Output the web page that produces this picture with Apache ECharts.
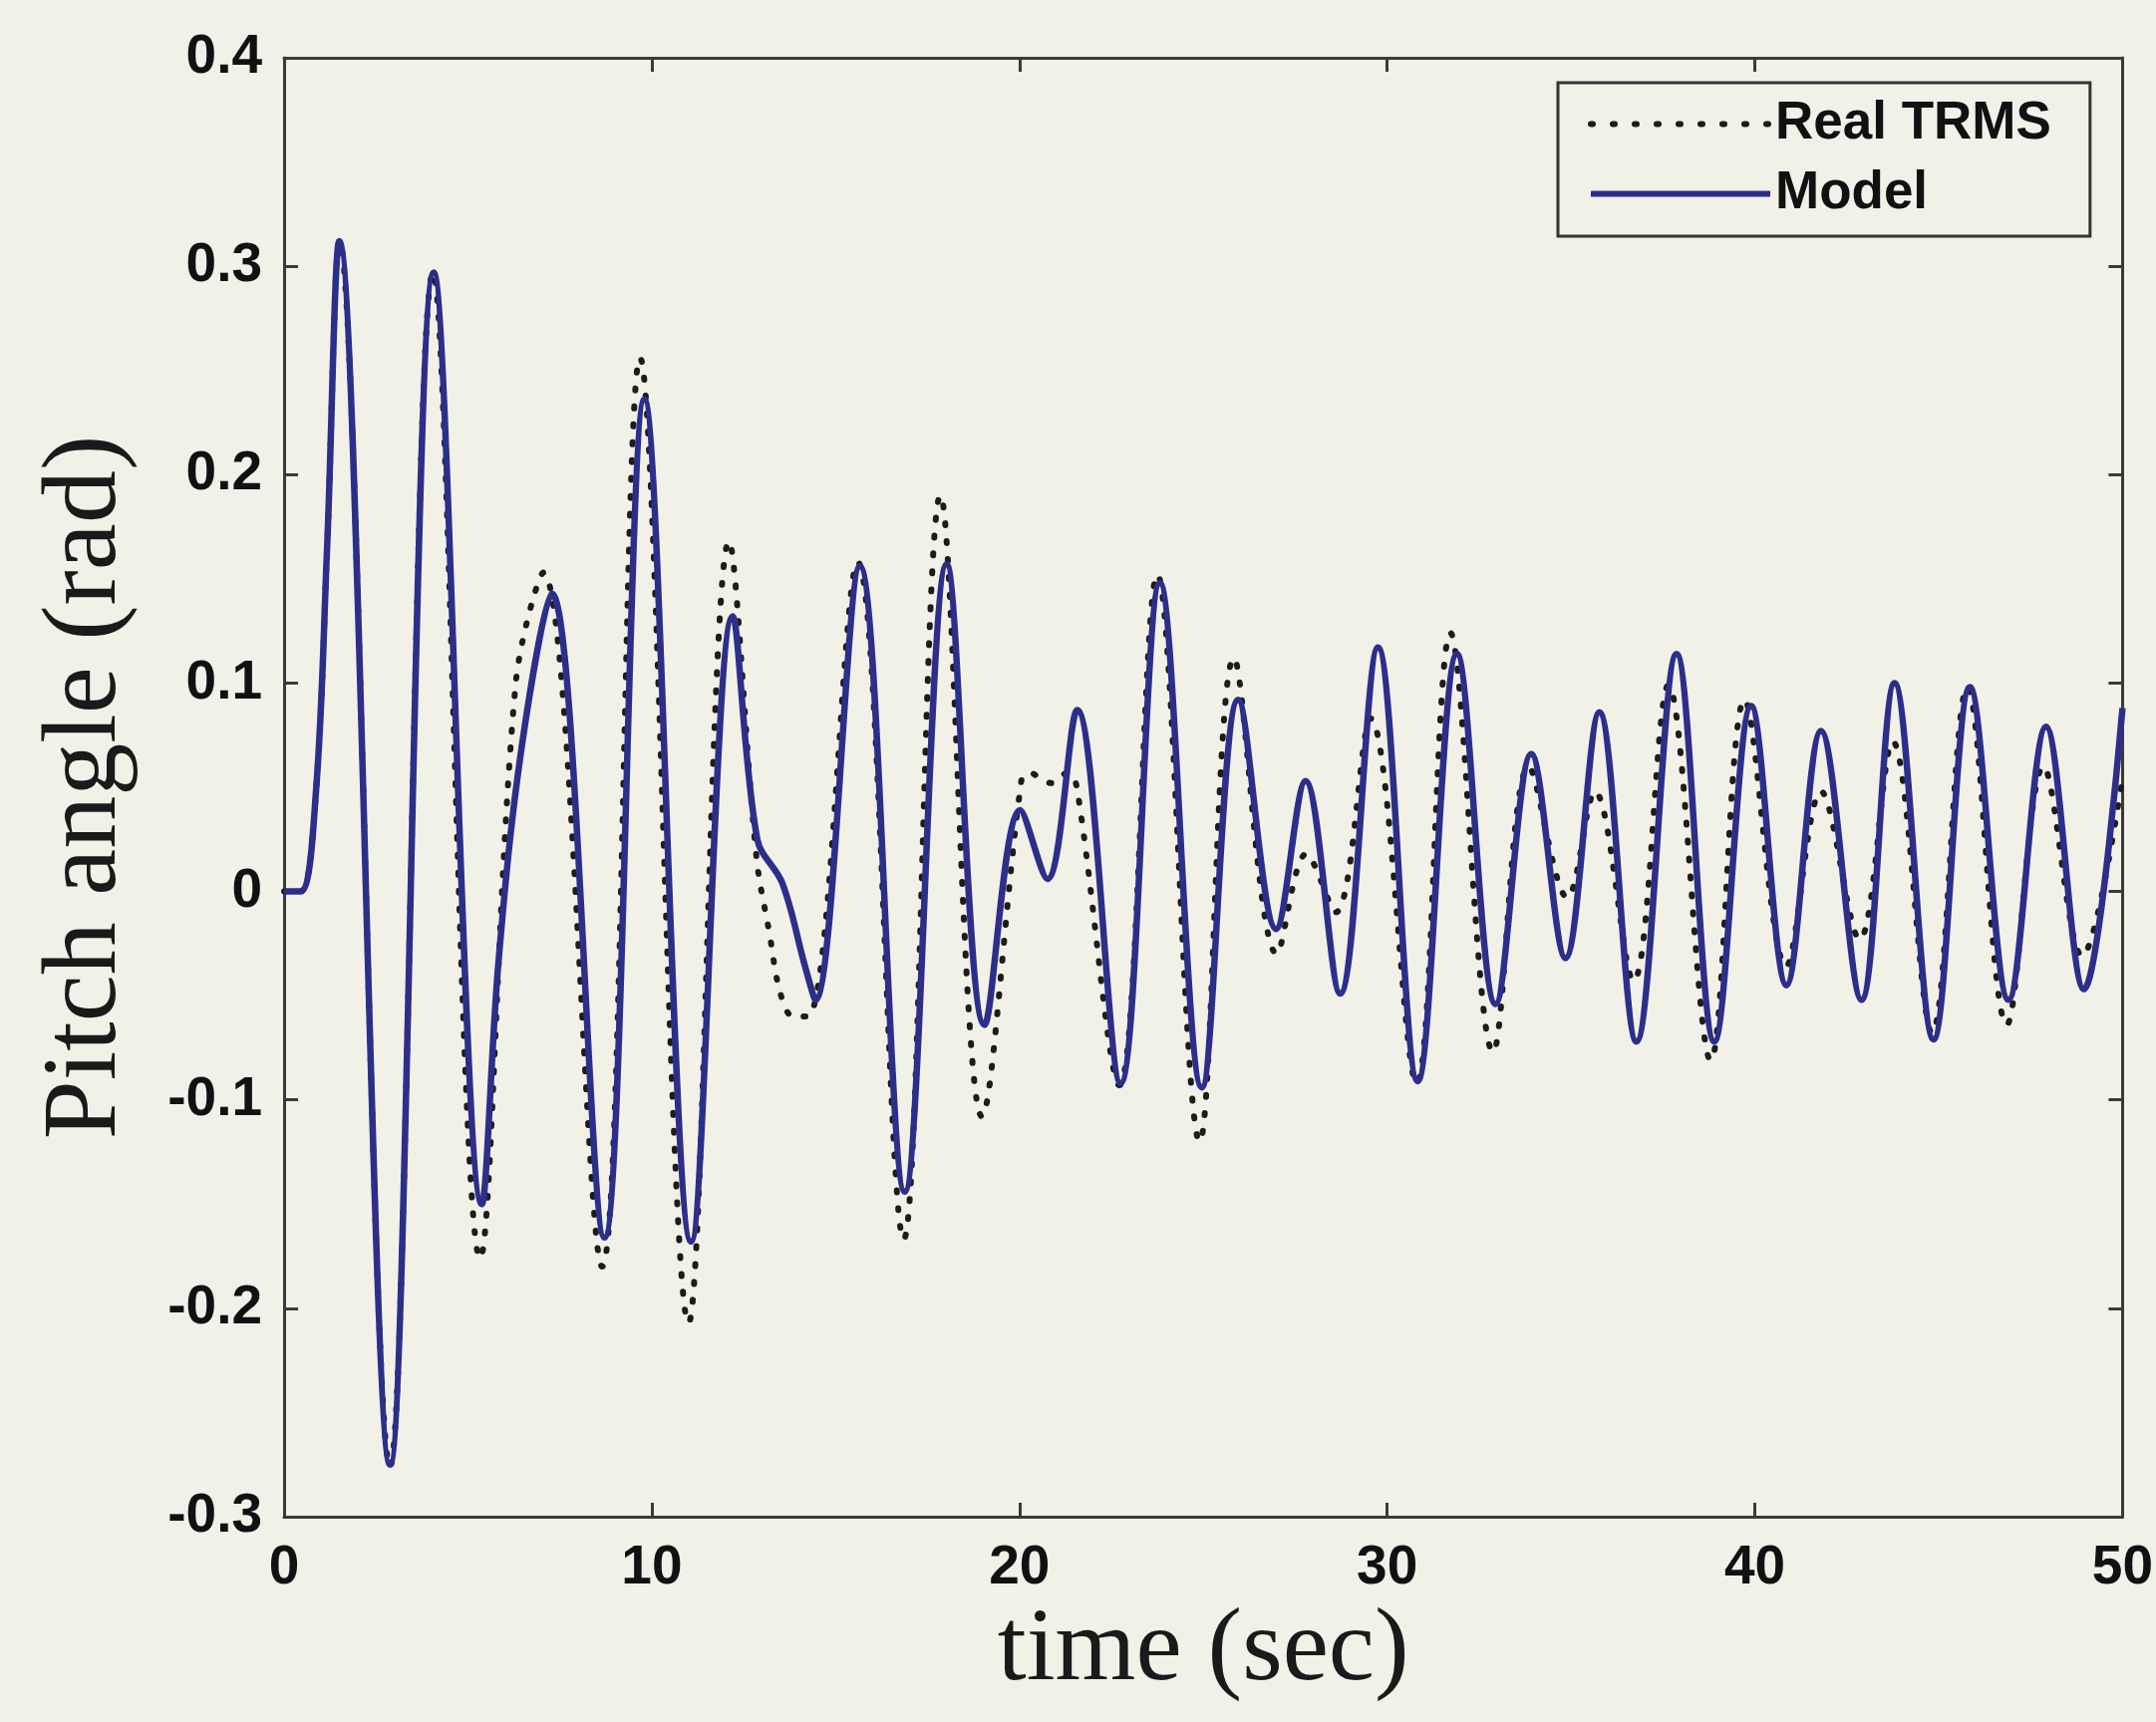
<!DOCTYPE html>
<html>
<head>
<meta charset="utf-8">
<script src="https://cdn.jsdelivr.net/npm/echarts@6/dist/echarts.min.js"></script>
<style>
  html, body { margin: 0; padding: 0; background: #f2f1e8; }
  #chart { width: 2163px; height: 1728px; }
</style>
</head>
<body>
<div id="chart"></div>
<script>
// ---- Data ----
const modelTime  = [0, 0.45, 0.86, 1.17, 1.5, 2.88, 4.07, 5.38, 5.83, 6.46, 7.28, 8.71, 9.8, 11.07, 12.2, 12.87, 13.55, 14.17, 14.45, 15.66, 16.88, 18.02, 19.05, 20.02, 20.76, 21.57, 22.75, 23.82, 24.96, 25.95, 26.98, 27.78, 28.72, 29.75, 30.83, 31.9, 32.95, 33.92, 34.85, 35.77, 36.78, 37.87, 38.9, 39.9, 40.86, 41.8, 42.9, 43.8, 44.86, 45.85, 46.9, 47.92, 48.95, 50];
const modelPitch = [0, 0, 0.046, 0.165, 0.312, -0.275, 0.297, -0.150, -0.034, 0.069, 0.143, -0.166, 0.236, -0.168, 0.132, 0.025, 0.004, -0.036, -0.052, 0.156, -0.144, 0.157, -0.064, 0.039, 0.006, 0.087, -0.092, 0.148, -0.094, 0.092, -0.018, 0.053, -0.049, 0.117, -0.091, 0.114, -0.054, 0.066, -0.032, 0.086, -0.072, 0.114, -0.072, 0.089, -0.045, 0.077, -0.052, 0.100, -0.071, 0.098, -0.052, 0.079, -0.047, 0.088];

const realTime  = [0, 0.45, 0.86, 1.17, 1.5, 2.88, 4.05, 5.33, 6.3, 7.05, 8.65, 9.68, 11.0, 12.1, 12.85, 13.2, 13.5, 13.85, 14.25, 15.6, 16.85, 17.85, 18.98, 20.05, 20.28, 20.6, 20.87, 21.1, 21.33, 21.56, 22.72, 23.75, 24.9, 25.83, 27.0, 27.8, 28.6, 29.55, 30.8, 31.72, 32.88, 33.85, 34.9, 35.65, 36.7, 37.65, 38.8, 39.72, 40.85, 41.8, 42.85, 43.75, 44.82, 45.78, 46.85, 47.85, 48.9, 50];
const realPitch = [0, 0, 0.046, 0.165, 0.312, -0.276, 0.297, -0.176, 0.100, 0.153, -0.180, 0.256, -0.207, 0.168, 0.016, -0.020, -0.049, -0.060, -0.060, 0.158, -0.167, 0.190, -0.108, 0.053, 0.057, 0.054, 0.052, 0.055, 0.057, 0.050, -0.093, 0.152, -0.120, 0.112, -0.030, 0.018, -0.010, 0.083, -0.092, 0.124, -0.077, 0.060, -0.003, 0.048, -0.043, 0.099, -0.081, 0.092, -0.036, 0.048, -0.023, 0.072, -0.068, 0.098, -0.064, 0.060, -0.031, 0.055];

const xTickLabels = ['0', '10', '20', '30', '40', '50'];
const yTickLabels = ['-0.3', '-0.2', '-0.1', '0', '0.1', '0.2', '0.3', '0.4'];
const seriesNames = ['Real TRMS', 'Model'];
const xTitle = 'time (sec)';
const yTitle = 'Pitch angle (rad)';

// ---- Chart ----
const chart = echarts.init(document.getElementById('chart'), null, { renderer: 'canvas' });

const sans = "'Liberation Sans', Arial, Helvetica, sans-serif";
const serif = "'Liberation Serif', 'Times New Roman', serif";
const frameColor = '#3a3a3a';
const bg = '#f2f1e8';
const modelColor = '#2c2f8a';
const realColor = '#1c1c1c';
const realDash = [2, 16];

const xMin = 0, xMax = 50, xStep = 10;
const yMin = -0.3, yMax = 0.4, yStep = 0.1;

function xLabel(v) { return xTickLabels[Math.round((v - xMin) / xStep)] ?? ''; }
function yLabel(v) { return yTickLabels[Math.round((v - yMin) / yStep)] ?? ''; }

const axisLineStyle = { show: true, onZero: false, lineStyle: { color: frameColor, width: 3 } };
const tickStyle = { show: true, inside: true, length: 14, lineStyle: { color: frameColor, width: 3 } };

const option = {
  animation: false,
  backgroundColor: bg,
  grid: { left: 285, right: 33, top: 58, bottom: 206, show: false },
  legend: {
    orient: 'vertical',
    left: 1563,
    top: 83,
    padding: [15, 39, 16, 30],
    itemWidth: 180,
    itemHeight: 40,
    itemGap: 17,
    borderColor: '#333',
    borderWidth: 3,
    backgroundColor: bg,
    itemStyle: { opacity: 0 },
    textStyle: { fontFamily: sans, fontWeight: 'bold', fontSize: 53, color: '#111' },
    data: [
      { name: seriesNames[0], lineStyle: { width: 6, type: [2, 20], cap: 'round', color: realColor } },
      { name: seriesNames[1], lineStyle: { width: 6, type: 'solid', color: modelColor } }
    ]
  },
  xAxis: [
    {
      type: 'value', min: xMin, max: xMax, interval: xStep, position: 'bottom',
      name: xTitle, nameLocation: 'middle', nameGap: 56,
      nameTextStyle: { fontFamily: serif, fontSize: 104, color: '#1a1a1a' },
      axisLine: axisLineStyle, axisTick: tickStyle,
      axisLabel: { formatter: xLabel, margin: 24, fontFamily: sans, fontWeight: 'bold', fontSize: 55, color: '#111' },
      splitLine: { show: false }
    },
    {
      type: 'value', min: xMin, max: xMax, interval: xStep, position: 'top',
      axisLine: axisLineStyle, axisTick: tickStyle,
      axisLabel: { show: false }, splitLine: { show: false }
    }
  ],
  yAxis: [
    {
      type: 'value', min: yMin, max: yMax, interval: yStep, position: 'left',
      name: yTitle, nameLocation: 'middle', nameGap: 145, nameRotate: 90,
      nameTextStyle: { fontFamily: serif, fontSize: 106, color: '#1a1a1a' },
      axisLine: axisLineStyle, axisTick: tickStyle,
      axisLabel: { formatter: yLabel, margin: 22, fontFamily: sans, fontWeight: 'bold', fontSize: 55, color: '#111' },
      splitLine: { show: false }
    },
    {
      type: 'value', min: yMin, max: yMax, interval: yStep, position: 'right',
      axisLine: axisLineStyle, axisTick: tickStyle,
      axisLabel: { show: false }, splitLine: { show: false }
    }
  ],
  series: [
    {
      name: seriesNames[0],
      type: 'line',
      xAxisIndex: 0, yAxisIndex: 0,
      data: realTime.map((t, i) => [t, realPitch[i]]),
      smooth: 0.36,
      symbol: 'none',
      showSymbol: false,
      lineStyle: { color: realColor, width: 6, type: realDash, cap: 'round' },
      itemStyle: { color: realColor },
      z: 2
    },
    {
      name: seriesNames[1],
      type: 'line',
      xAxisIndex: 0, yAxisIndex: 0,
      data: modelTime.map((t, i) => [t, modelPitch[i]]),
      smooth: 0.36,
      symbol: 'none',
      showSymbol: false,
      lineStyle: { color: modelColor, width: 6.5, type: 'solid' },
      itemStyle: { color: modelColor },
      z: 3
    }
  ]
};

chart.setOption(option);
</script>
</body>
</html>
